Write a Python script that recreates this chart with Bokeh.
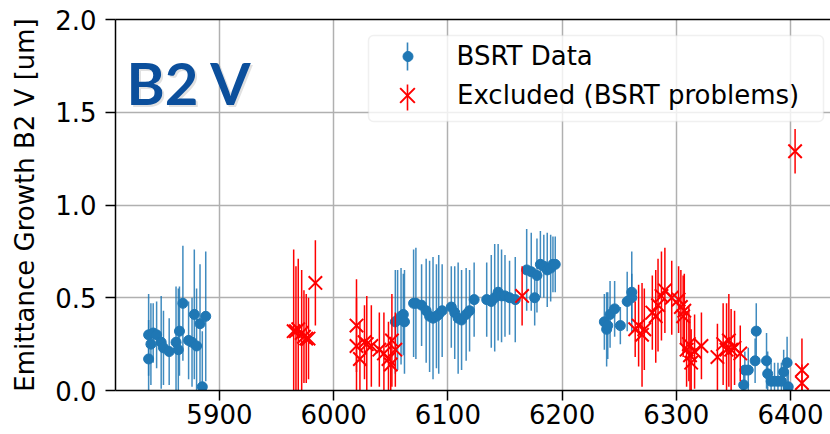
import numpy as np
from bokeh.plotting import figure
from bokeh.models import (Range1d, FixedTicker, LinearAxis, Label, Legend, LegendItem,
                          PrintfTickFormatter, ColumnDataSource, BoxAnnotation)
from bokeh.embed import file_html
from bokeh.resources import INLINE

# ---- data ----
bsrt_x = [5838, 5838, 5840, 5842, 5845, 5849, 5851, 5856, 5862, 5864, 5865, 5868, 5873, 5876,
          5878, 5880, 5883, 5885, 5888,
          6054, 6056, 6059, 6061, 6062, 6070, 6072, 6077, 6081, 6084, 6087, 6090, 6092, 6095,
          6103, 6106, 6109, 6112, 6116, 6119, 6123, 6134, 6138, 6141, 6144, 6147, 6150, 6154,
          6159, 6169, 6173, 6176, 6178, 6181, 6184, 6187, 6190, 6192, 6194,
          6237, 6239, 6240, 6242, 6246, 6251, 6257, 6261, 6261,
          6359, 6360, 6363, 6369, 6370, 6379, 6380, 6383, 6386, 6389, 6392, 6394, 6397, 6398]
bsrt_y = [0.17, 0.30, 0.25, 0.31, 0.30, 0.26, 0.23, 0.21, 0.26, 0.22, 0.32, 0.47, 0.27, 0.26,
          0.41, 0.24, 0.36, 0.02, 0.40,
          0.37, 0.38, 0.40, 0.41, 0.37, 0.47, 0.47, 0.46, 0.43, 0.40, 0.39, 0.40, 0.41, 0.43,
          0.45, 0.42, 0.39, 0.38, 0.41, 0.43, 0.49, 0.49, 0.48, 0.50, 0.53, 0.51, 0.51, 0.50,
          0.49, 0.65, 0.64, 0.50, 0.62, 0.68, 0.67, 0.65, 0.66, 0.68, 0.68,
          0.37, 0.33, 0.35, 0.41, 0.44, 0.35, 0.48, 0.50, 0.53,
          0.03, 0.11, 0.11, 0.16, 0.32, 0.16, 0.09, 0.05, 0.05, 0.05, 0.05, 0.10, 0.15, 0.02]
bsrt_err = [0.21, 0.22, 0.22, 0.16, 0.18, 0.25, 0.20, 0.18, 0.30, 0.33, 0.24, 0.31, 0.21, 0.24,
            0.35, 0.31, 0.32, 0.30, 0.35,
            0.28, 0.27, 0.26, 0.22, 0.28, 0.29, 0.30, 0.22, 0.28, 0.30, 0.33, 0.28, 0.32, 0.25,
            0.22, 0.25, 0.30, 0.27, 0.25, 0.22, 0.20, 0.20, 0.25, 0.29, 0.26, 0.25, 0.22, 0.20,
            0.23, 0.22, 0.21, 0.15, 0.20, 0.18, 0.17, 0.20, 0.18, 0.15, 0.15,
            0.15, 0.20, 0.18, 0.18, 0.15, 0.10, 0.16, 0.13, 0.22,
            0.08, 0.10, 0.12, 0.12, 0.15, 0.15, 0.12, 0.10, 0.10, 0.10, 0.10, 0.12, 0.14, 0.08]

excl_x = [5965, 5967, 5969, 5972, 5974, 5976, 5978, 5984,
          6020, 6020, 6023, 6027, 6029, 6033, 6040, 6044, 6048, 6050, 6051, 6054,
          6165,
          6264, 6267, 6270, 6272, 6279, 6282, 6284, 6287, 6290, 6296, 6302, 6304, 6306, 6307,
          6309, 6311, 6312, 6313, 6316, 6322, 6336, 6341, 6344, 6346, 6348, 6351, 6356,
          6404, 6410, 6410]
excl_y = [0.32, 0.32, 0.33, 0.31, 0.29, 0.28, 0.28, 0.58,
          0.35, 0.24, 0.17, 0.26, 0.25, 0.24, 0.22, 0.20, 0.17, 0.14, 0.27, 0.22,
          0.51,
          0.33, 0.35, 0.30, 0.33, 0.42, 0.40, 0.46, 0.51, 0.54, 0.50, 0.49, 0.45, 0.40, 0.43,
          0.22, 0.25, 0.19, 0.15, 0.21, 0.24, 0.18, 0.25, 0.22, 0.27, 0.22, 0.23, 0.20,
          1.29, 0.11, 0.04]
excl_err = [0.44, 0.35, 0.38, 0.34, 0.25, 0.24, 0.22, 0.23,
            0.25, 0.26, 0.20, 0.20, 0.26, 0.22, 0.20, 0.22, 0.20, 0.15, 0.25, 0.20,
            0.16,
            0.15, 0.22, 0.28, 0.22, 0.20, 0.25, 0.25, 0.24, 0.23, 0.20, 0.18, 0.20, 0.22, 0.20,
            0.20, 0.20, 0.20, 0.18, 0.20, 0.18, 0.18, 0.22, 0.25, 0.25, 0.22, 0.20, 0.15,
            0.12, 0.17, 0.10]

x_ticks = [5900, 6000, 6100, 6200, 6300, 6400]
y_ticks = [0.0, 0.5, 1.0, 1.5, 2.0]
y_label = "Emittance Growth B2 V [um]"
panel_title = "B2 V"
series_labels = ["BSRT Data", "Excluded (BSRT problems)"]

BLUE = "#1f77b4"
RED = "#ff0000"
FONT = "DejaVu Sans"

bx, by, be = np.array(bsrt_x, float), np.array(bsrt_y), np.array(bsrt_err)
rx, ry, re_ = np.array(excl_x, float), np.array(excl_y), np.array(excl_err)

p = figure(width=830, height=434, output_backend="svg", toolbar_location=None,
           x_range=Range1d(5809, 6435), y_range=Range1d(0, 2.0),
           min_border_left=115, min_border_right=0, min_border_top=19, min_border_bottom=44,
           x_axis_location="below", y_axis_location="left")
p.outline_line_color = None
p.background_fill_color = "white"
p.border_fill_color = "white"

# axes
for ax in (p.xaxis[0], p.yaxis[0]):
    ax.axis_line_width = 1.5
    ax.axis_line_color = "black"
    ax.major_tick_out = 10
    ax.major_tick_in = 0
    ax.major_tick_line_width = 1.5
    ax.minor_tick_out = 0
    ax.minor_tick_in = 0
    ax.major_label_text_font = FONT
    ax.major_label_text_font_size = "26px"
    ax.major_label_text_color = "black"
p.xaxis.ticker = FixedTicker(ticks=x_ticks)
p.yaxis.ticker = FixedTicker(ticks=y_ticks)
p.xaxis.formatter = PrintfTickFormatter(format="%d")
p.yaxis.formatter = PrintfTickFormatter(format="%.1f")
p.xaxis.major_label_standoff = 3
p.yaxis.major_label_standoff = 9
p.yaxis.axis_label = y_label
p.yaxis.axis_label_text_font = FONT
p.yaxis.axis_label_text_font_size = "26px"
p.yaxis.axis_label_text_font_style = "normal"
p.yaxis.axis_label_text_color = "black"
p.yaxis.axis_label_standoff = 12

top_axis = LinearAxis(ticker=FixedTicker(ticks=[]), major_label_text_font_size="0px",
                      major_tick_out=0, major_tick_in=0, minor_tick_out=0, minor_tick_in=0,
                      axis_line_width=1.5, axis_line_color="black")
p.add_layout(top_axis, "above")

# grid
p.grid.grid_line_color = "#b0b0b0"
p.grid.grid_line_width = 1.5
p.xgrid.ticker = FixedTicker(ticks=x_ticks)
p.ygrid.ticker = FixedTicker(ticks=y_ticks)

# data glyphs
bsrc = ColumnDataSource(dict(x=bx, y=by, lo=by - be, hi=by + be))
rsrc = ColumnDataSource(dict(x=rx, y=ry, lo=ry - re_, hi=ry + re_))

p.segment(x0="x", y0="lo", x1="x", y1="hi", source=bsrc, line_color=BLUE, line_width=1.5,
          line_alpha=0.85)
b_pts = p.scatter(x="x", y="y", source=bsrc, marker="circle", size=10, fill_color=BLUE,
                  line_color=BLUE)
p.segment(x0="x", y0="lo", x1="x", y1="hi", source=rsrc, line_color=RED, line_width=1.5)
r_pts = p.scatter(x="x", y="y", source=rsrc, marker="x", size=19, line_color=RED, line_width=2)

# ---- legend: frame, error-bar handles, and two single-item legends ----
p.add_layout(BoxAnnotation(left=253, right=708, top=355, bottom=269,
                           left_units="screen", right_units="screen",
                           top_units="screen", bottom_units="screen",
                           fill_color="white", fill_alpha=0.8,
                           line_color="#cccccc", line_width=1.5, border_radius=5))
p.add_layout(BoxAnnotation(left=291.2, right=292.8, top=348, bottom=320,
                           left_units="screen", right_units="screen",
                           top_units="screen", bottom_units="screen",
                           fill_color=BLUE, fill_alpha=0.9, line_color=None))
p.add_layout(BoxAnnotation(left=291.2, right=292.8, top=306, bottom=280,
                           left_units="screen", right_units="screen",
                           top_units="screen", bottom_units="screen",
                           fill_color=RED, fill_alpha=1.0, line_color=None))

common = dict(label_text_font=FONT, label_text_font_size="26px", label_text_color="black",
              border_line_color=None, background_fill_alpha=0.0,
              padding=0, margin=0, spacing=0)
leg_a = Legend(items=[LegendItem(label=series_labels[0], renderers=[b_pts])],
               location=(279.5, 317), glyph_width=25, glyph_height=34, label_height=34,
               label_standoff=37, **common)
leg_b = Legend(items=[LegendItem(label=series_labels[1], renderers=[r_pts])],
               location=(266, 269), glyph_width=52, glyph_height=52, label_height=52,
               label_standoff=24, **common)
p.add_layout(leg_a, "center")
p.add_layout(leg_b, "center")

# panel tag "B2 V" with soft shadow
p.add_layout(Label(x=13, y=306, x_units="screen", y_units="screen", text=panel_title,
                   text_font="Lato", text_font_style="bold", text_font_size="58px",
                   text_color="#9a9a9a", text_alpha=0.3, text_baseline="alphabetic"))
p.add_layout(Label(x=11, y=308, x_units="screen", y_units="screen", text=panel_title,
                   text_font="Lato", text_font_style="bold", text_font_size="58px",
                   text_color="#0b4f9c", text_baseline="alphabetic"))

open("out.html", "w").write(file_html(p, INLINE))
